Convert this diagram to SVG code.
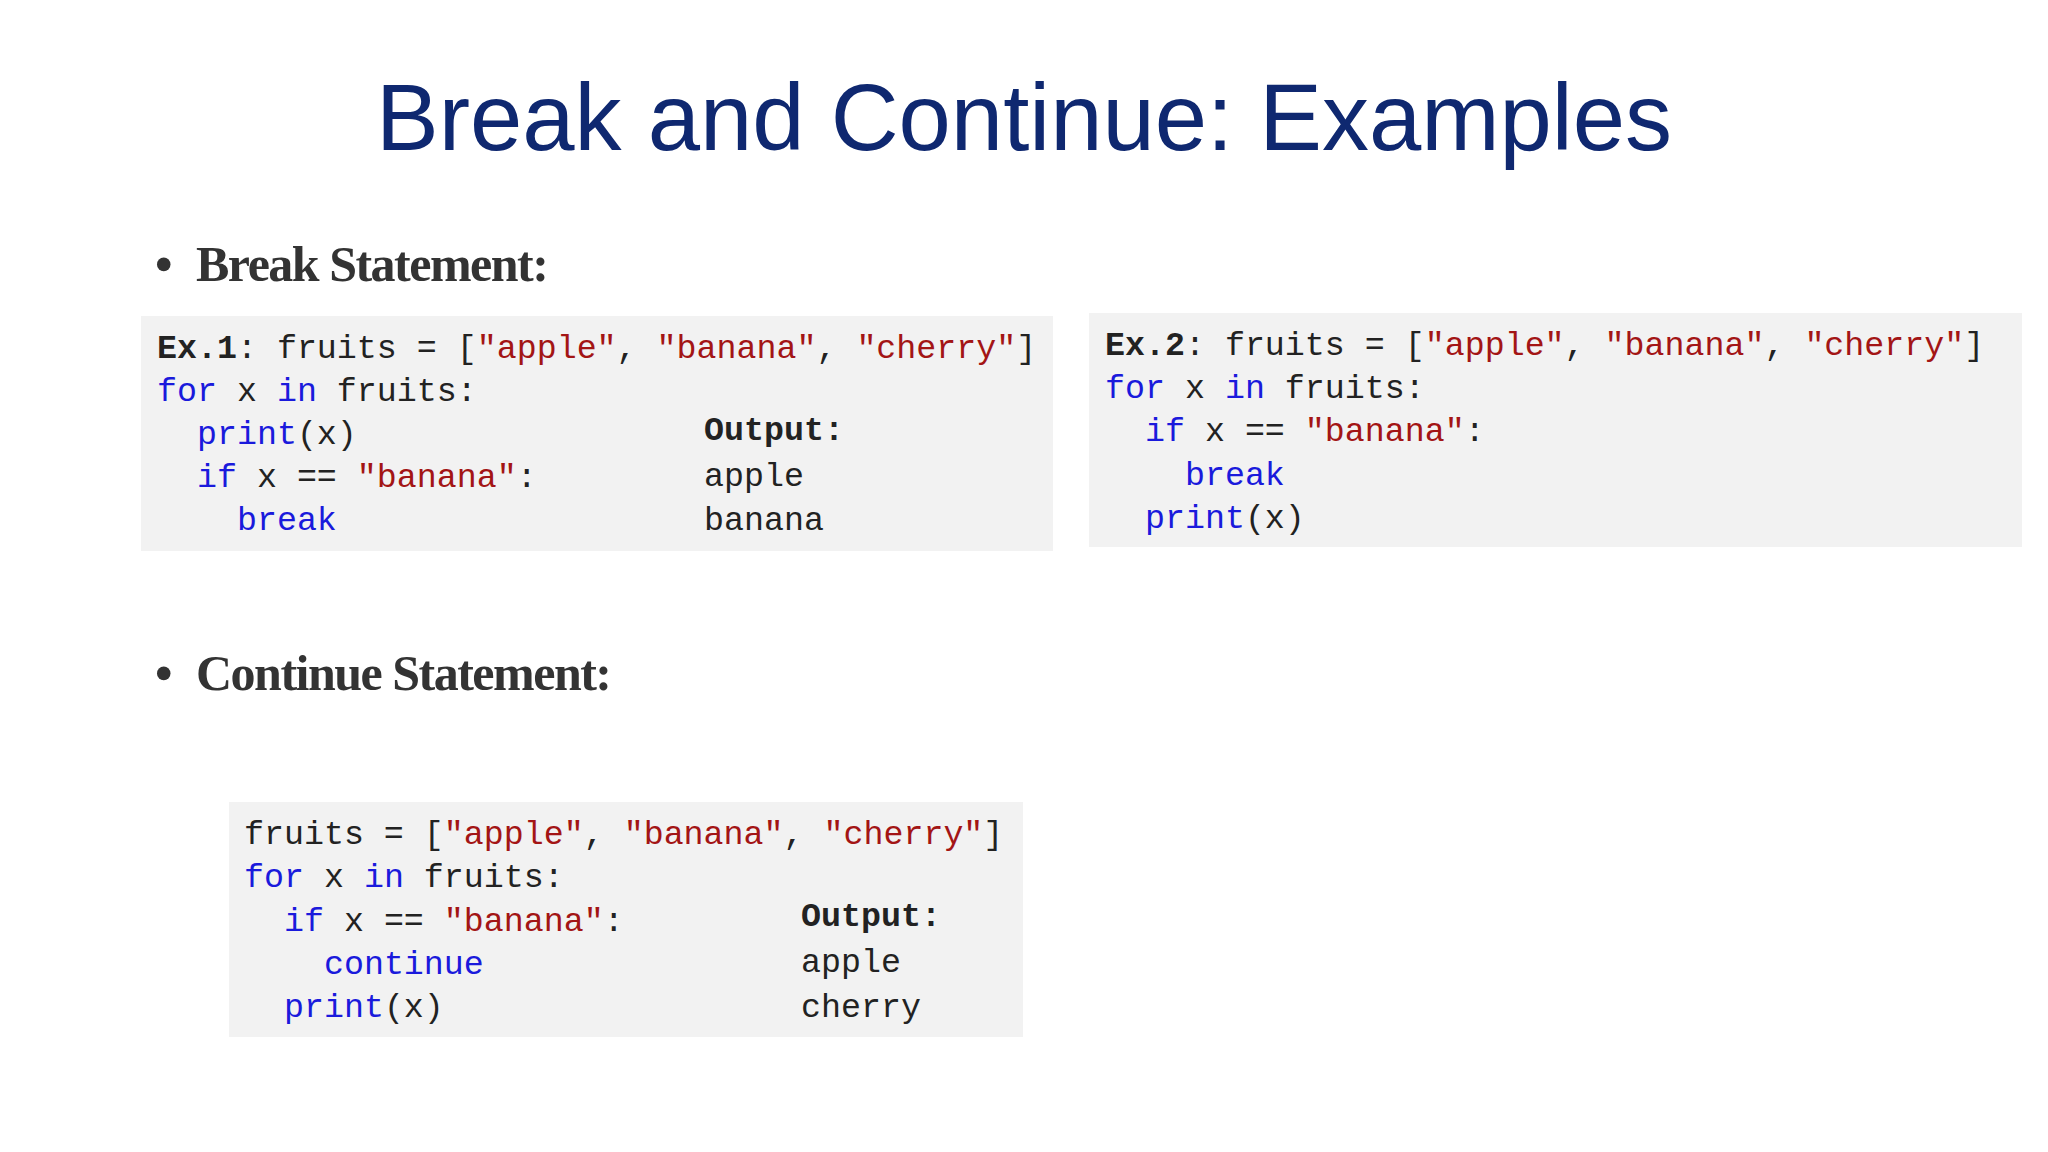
<svg xmlns="http://www.w3.org/2000/svg" width="2048" height="1152" viewBox="0 0 2048 1152">
<style>
.t{font-family:"Liberation Sans",Arial,sans-serif;font-size:94px;fill:#0f2870}
.b{font-family:"Liberation Serif","Times New Roman",serif;font-size:50px;fill:#333;font-weight:bold;letter-spacing:-1.5px}
.c{font-family:"Liberation Mono","DejaVu Sans Mono",monospace;font-size:33.3px;fill:#222;white-space:pre}
.k{fill:#1a1adc}.s{fill:#a31515}.bd{font-weight:bold}
.box{fill:#f2f2f2}
</style>
<rect width="2048" height="1152" fill="#fff"/>
<text class="t" x="1024" y="150" text-anchor="middle">Break and Continue: Examples</text>
<g id="bullet1"><text class="b" x="155" y="281">•</text><text class="b" x="196" y="281">Break Statement:</text></g>
<g id="bullet2"><text class="b" x="155" y="690">•</text><text class="b" x="196" y="690">Continue Statement:</text></g>
<g id="ex1">
<rect class="box" x="141" y="316" width="912" height="235"/>
<text class="c" xml:space="preserve"><tspan x="157" y="358"><tspan class="bd">Ex.1</tspan>: fruits = [<tspan class="s">"apple"</tspan>, <tspan class="s">"banana"</tspan>, <tspan class="s">"cherry"</tspan>]</tspan><tspan x="157" y="401"><tspan class="k">for</tspan> x <tspan class="k">in</tspan> fruits:</tspan><tspan x="157" y="444">  <tspan class="k">print</tspan>(x)</tspan><tspan x="157" y="487">  <tspan class="k">if</tspan> x == <tspan class="s">"banana"</tspan>:</tspan><tspan x="157" y="530">    <tspan class="k">break</tspan></tspan></text>
<text class="c" xml:space="preserve"><tspan x="704" y="440" class="bd">Output:</tspan><tspan x="704" y="486">apple</tspan><tspan x="704" y="530">banana</tspan></text>
</g>
<g id="ex2">
<rect class="box" x="1089" y="313" width="933" height="234"/>
<text class="c" xml:space="preserve"><tspan x="1105" y="355"><tspan class="bd">Ex.2</tspan>: fruits = [<tspan class="s">"apple"</tspan>, <tspan class="s">"banana"</tspan>, <tspan class="s">"cherry"</tspan>]</tspan><tspan x="1105" y="398"><tspan class="k">for</tspan> x <tspan class="k">in</tspan> fruits:</tspan><tspan x="1105" y="441">  <tspan class="k">if</tspan> x == <tspan class="s">"banana"</tspan>:</tspan><tspan x="1105" y="485">    <tspan class="k">break</tspan></tspan><tspan x="1105" y="528">  <tspan class="k">print</tspan>(x)</tspan></text>
</g>
<g id="ex3">
<rect class="box" x="229" y="802" width="794" height="235"/>
<text class="c" xml:space="preserve"><tspan x="244" y="844">fruits = [<tspan class="s">"apple"</tspan>, <tspan class="s">"banana"</tspan>, <tspan class="s">"cherry"</tspan>]</tspan><tspan x="244" y="887"><tspan class="k">for</tspan> x <tspan class="k">in</tspan> fruits:</tspan><tspan x="244" y="931">  <tspan class="k">if</tspan> x == <tspan class="s">"banana"</tspan>:</tspan><tspan x="244" y="974">    <tspan class="k">continue</tspan></tspan><tspan x="244" y="1017">  <tspan class="k">print</tspan>(x)</tspan></text>
<text class="c" xml:space="preserve"><tspan x="801" y="926" class="bd">Output:</tspan><tspan x="801" y="972">apple</tspan><tspan x="801" y="1017">cherry</tspan></text>
</g>
</svg>
